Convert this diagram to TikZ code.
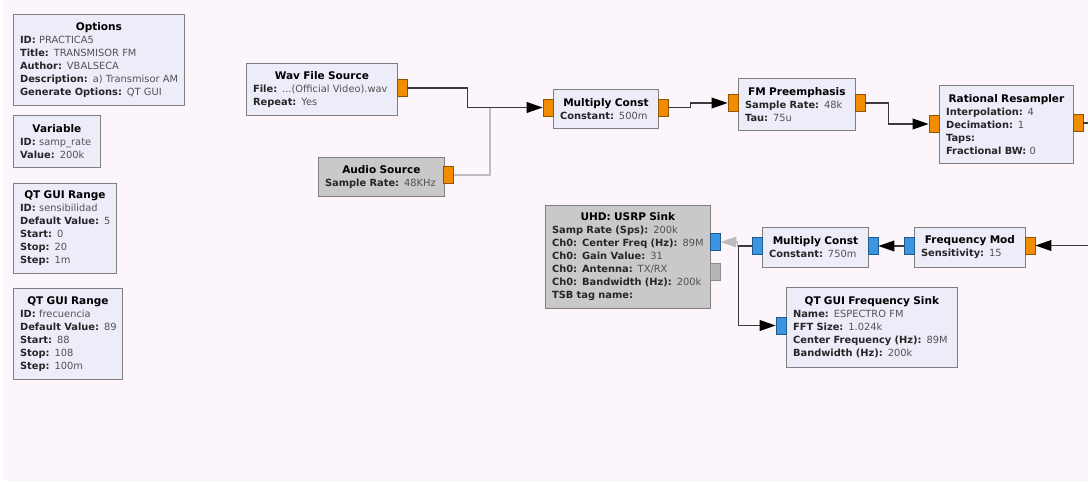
\documentclass[tikz,border=0pt]{standalone}
\usepackage{fontspec}
\setmainfont{DejaVu Sans}
\usetikzlibrary{arrows.meta}

\newcommand\blktitle[1]{\noindent\hbox to\linewidth{\hss\fontsize{7.9}{9.75}\selectfont\textbf{#1}\hss}}
\newcommand\kv[2]{\mbox{{\color{keyc}\textbf{#1:}} {\color{valc}#2}}}

\begin{document}
\begin{tikzpicture}[x=0.75pt, y=-0.75pt,
  blk/.style={draw=blockline, fill=blockfill, line width=0.6pt, anchor=north west,
    inner xsep=5pt, inner ysep=2pt, align=left,
    font=\fontsize{7.4}{9.75}\selectfont},
  offblk/.style={blk, fill=offfill},
  port/.style={draw, line width=0.5pt, inner sep=0pt, minimum width=7.5pt, minimum height=12.75pt},
  oport/.style={port, fill=portor, draw=portor!60!black},
  bport/.style={port, fill=portbl, draw=portbl!60!black},
  gport/.style={port, fill=offfill!90!black, draw=black!45},
  wire/.style={draw=wirec, line width=1.2pt, -{Triangle[length=12pt, width=8pt, color=black]}},
  offwire/.style={draw=offwirec, line width=1pt, -{Triangle[length=12pt, width=8pt, color=offwirec]}}]

\colorlet{keyc}{black!85}
\colorlet{valc}{black!68}
\definecolor{canvas}{HTML}{FCF5FB}
\definecolor{blockfill}{HTML}{EDEDFA}
\definecolor{blockline}{HTML}{7F7F7F}
\definecolor{offfill}{HTML}{C9C9C9}
\definecolor{portor}{HTML}{F28C00}
\definecolor{portbl}{HTML}{3A96E2}
\definecolor{wirec}{HTML}{3A3A3A}
\definecolor{offwirec}{HTML}{BDBDBD}

%% canvas: 1088 x 483 px, y grows downwards
\useasboundingbox (0,0) rectangle (1088,483);
\fill[white] (0,0) rectangle (1088,483);
\fill[canvas] (3,0) rectangle (1088,481);

%% ---------- variables column ----------
\node[blk, text width=118.25pt, minimum height=68.25pt] (options) at (13,14)
  {\blktitle{Options}\\ \kv{ID}{PRACTICA5}\\ \kv{Title}{TRANSMISOR FM}\\
   \kv{Author}{VBALSECA}\\ \kv{Description}{a) Transmisor AM}\\ \kv{Generate Options}{QT GUI}};
\node[blk, text width=55.25pt, minimum height=39pt] (samprate) at (13,115)
  {\blktitle{Variable}\\ \kv{ID}{samp\_rate}\\ \kv{Value}{200k}};
\node[blk, text width=67.25pt, minimum height=67.5pt] (sens) at (13,183)
  {\blktitle{QT GUI Range}\\ \kv{ID}{sensibilidad}\\ \kv{Default Value}{5}\\
   \kv{Start}{0}\\ \kv{Stop}{20}\\ \kv{Step}{1m}};
\node[blk, text width=71.75pt, minimum height=68.25pt] (freq) at (13,288)
  {\blktitle{QT GUI Range}\\ \kv{ID}{frecuencia}\\ \kv{Default Value}{89}\\
   \kv{Start}{88}\\ \kv{Stop}{108}\\ \kv{Step}{100m}};

%% ---------- audio chain (left to right) ----------
\node[blk, text width=103.25pt, minimum height=39pt] (wav) at (246,63)
  {\blktitle{Wav File Source}\\ \kv{File}{...(Official Video).wav}\\ \kv{Repeat}{Yes}};
\node[offblk, text width=84.5pt, minimum height=29.25pt] (audio) at (318,157)
  {\blktitle{Audio Source}\\ \kv{Sample Rate}{48KHz}};
\node[blk, text width=68.75pt, minimum height=29.25pt] (mult5) at (553,89)
  {\blktitle{Multiply Const}\\ \kv{Constant}{500m}};
\node[blk, text width=77.75pt, minimum height=39pt] (preemph) at (738,78)
  {\blktitle{FM Preemphasis}\\ \kv{Sample Rate}{48k}\\ \kv{Tau}{75u}};
\node[blk, text width=90.5pt, minimum height=58.5pt] (resamp) at (939,85)
  {\blktitle{Rational Resampler}\\ \kv{Interpolation}{4}\\ \kv{Decimation}{1}\\
   \kv{Taps}{}\\ \kv{Fractional BW}{0}};

%% ---------- RF chain (right to left) ----------
\node[blk, text width=73.25pt, minimum height=30pt] (fmod) at (914,227)
  {\blktitle{Frequency Mod}\\ \kv{Sensitivity}{15}};
\node[blk, text width=69.5pt, minimum height=30pt] (mult7) at (762,227)
  {\blktitle{Multiply Const}\\ \kv{Constant}{750m}};
\node[offblk, text width=113.75pt, minimum height=77.25pt] (usrp) at (545,205)
  {\blktitle{UHD: USRP Sink}\\ \kv{Samp Rate (Sps)}{200k}\\ \kv{Ch0: Center Freq (Hz)}{89M}\\
   \kv{Ch0: Gain Value}{31}\\ \kv{Ch0: Antenna}{TX/RX}\\ \kv{Ch0: Bandwidth (Hz)}{200k}\\
   \kv{TSB tag name}{}};
\node[blk, text width=118.25pt, minimum height=60pt] (fsink) at (786,287)
  {\blktitle{QT GUI Frequency Sink}\\ \kv{Name}{ESPECTRO FM}\\ \kv{FFT Size}{1.024k}\\
   \kv{Center Frequency (Hz)}{89M}\\ \kv{Bandwidth (Hz)}{200k}};

%% ---------- ports ----------
\node[oport] (wavout) at (402,88) {};
\node[oport] (audout) at (448.5,175) {};
\node[oport] (m5in) at (548,107.5) {};
\node[oport] (m5out) at (663,107.5) {};
\node[oport] (fmin) at (733,103) {};
\node[oport] (fmout) at (860,103) {};
\node[oport] (rrin) at (934,124) {};
\node[oport] (rrout) at (1078,123) {};
\node[oport] (fmodin) at (1030,245.5) {};
\node[bport] (fmodout) at (909,246) {};
\node[bport] (m7in) at (873,246) {};
\node[bport] (m7out) at (757,246) {};
\node[bport] (usin) at (715,242) {};
\node[gport] (usmsg) at (715,271.5) {};
\node[bport] (fsin) at (781,325.5) {};

%% ---------- connections ----------
\coordinate (audjoin) at (490,107.5);
\coordinate (rrend) at (1088,123);
\coordinate (fmodsrc) at (1088,245.5);

\draw[offwirec, line width=1pt] (audout.east) -| (audjoin);
\draw[wire] (wavout.east) -- ++(60,0) |- (m5in.west);
\draw[wire] (m5out.east) -- ++(22,0) |- (fmin.west);
\draw[wire] (fmout.east) -- ++(23,0) |- (rrin.west);
\draw[wirec, line width=1.2pt] (rrout.east) -- (rrend);

\draw[wire] (fmodsrc) -- (fmodin.east);
\draw[wire] (fmodout.west) -- (m7in.east);
\draw[offwire] (m7out.west) -- ++(-14,0) |- (usin.east);
\draw[wire] (m7out.west) -- ++(-13,0) |- (fsin.west);

\end{tikzpicture}
\end{document}
